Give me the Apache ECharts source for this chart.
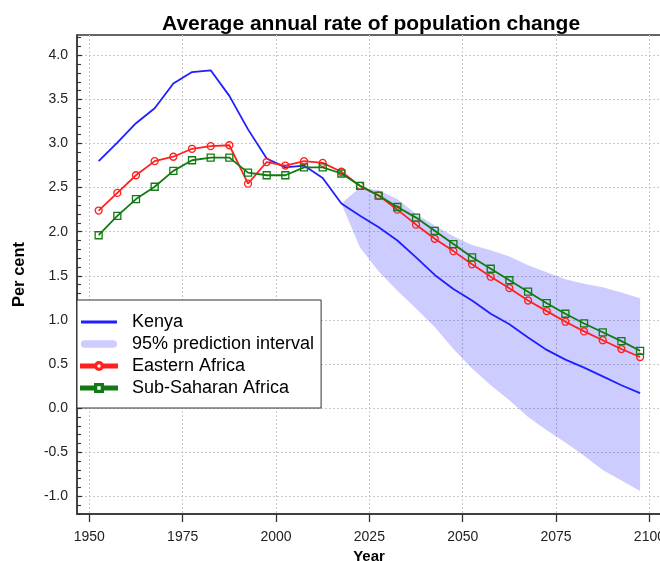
<!DOCTYPE html>
<html><head><meta charset="utf-8">
<script src="https://cdn.jsdelivr.net/npm/echarts@6/dist/echarts.min.js"></script>
<style>html,body{margin:0;padding:0;background:#fff}#c{width:660px;height:561px}</style>
</head><body><div id="c"></div>
<script>
// ---- data ----
const years = [1952.5, 1957.5, 1962.5, 1967.5, 1972.5, 1977.5, 1982.5, 1987.5, 1992.5, 1997.5,
  2002.5, 2007.5, 2012.5, 2017.5, 2022.5, 2027.5, 2032.5, 2037.5, 2042.5, 2047.5,
  2052.5, 2057.5, 2062.5, 2067.5, 2072.5, 2077.5, 2082.5, 2087.5, 2092.5, 2097.5];
const kenya = [2.80, 3.01, 3.23, 3.40, 3.68, 3.81, 3.83, 3.54, 3.16, 2.83,
  2.73, 2.75, 2.61, 2.32, 2.18, 2.05, 1.90, 1.71, 1.51, 1.35,
  1.22, 1.07, 0.95, 0.80, 0.66, 0.55, 0.46, 0.36, 0.26, 0.17];
const easternAfrica = [2.24, 2.44, 2.64, 2.80, 2.85, 2.94, 2.97, 2.98, 2.545, 2.79,
  2.75, 2.80, 2.78, 2.68, 2.52, 2.41, 2.25, 2.08, 1.92, 1.78,
  1.63, 1.49, 1.36, 1.22, 1.10, 0.98, 0.87, 0.77, 0.67, 0.58];
const subSaharanAfrica = [1.96, 2.18, 2.37, 2.51, 2.69, 2.81, 2.84, 2.84, 2.67, 2.64,
  2.64, 2.73, 2.73, 2.66, 2.52, 2.41, 2.28, 2.16, 2.01, 1.86,
  1.71, 1.58, 1.45, 1.32, 1.19, 1.07, 0.96, 0.86, 0.76, 0.65];
const bandYears = [2017.5, 2022.5, 2027.5, 2032.5, 2037.5, 2042.5, 2047.5, 2052.5, 2057.5,
  2062.5, 2067.5, 2072.5, 2077.5, 2082.5, 2087.5, 2092.5, 2097.5];
const bandLower = [2.32, 1.82, 1.55, 1.33, 1.13, 0.92, 0.67, 0.45, 0.26,
  0.09, -0.10, -0.25, -0.39, -0.54, -0.70, -0.82, -0.94];
const bandUpper = [2.32, 2.50, 2.47, 2.37, 2.20, 2.07, 1.95, 1.85, 1.79,
  1.72, 1.62, 1.54, 1.46, 1.41, 1.37, 1.31, 1.245];
const xTicks = [1950, 1975, 2000, 2025, 2050, 2075, 2100];
const yTicks = [-1.0, -0.5, 0.0, 0.5, 1.0, 1.5, 2.0, 2.5, 3.0, 3.5, 4.0];
const titleText = 'Average annual rate of population change';
const xName = 'Year';
const yName = 'Per cent';
const names = ['Kenya', '95% prediction interval', 'Eastern Africa', 'Sub-Saharan Africa'];

// ---- build ----
const FONT = '"Liberation Sans", Arial, Helvetica, sans-serif';
const yMinor = [];
for (let v = -12; v <= 42; v++) yMinor.push(v / 10);
const pairs = (xs, ys) => xs.map((x, i) => [x, ys[i]]);
const X_MIN = 1946.7, X_MAX = 2103.1, Y_MIN = -1.2, Y_MAX = 4.23;
const gridLine = { show: true, lineStyle: { color: '#c8c8c8', type: [2, 2], width: 1 } };
const BLUE = '#1f1fff', RED = '#ff2020', GREEN = '#127a12', BAND = 'rgba(0,0,255,0.2)';

const ICON_LINE = 'path://M0,0 H36 V3 H0 Z';
const ICON_BAND = 'path://M4,0 H34 A4,4 0 0 1 34,8 H4 A4,4 0 0 1 4,0 Z';
const ICON_CIRCLE = 'path://M0,3.5 H14 V6.5 H0 Z M22,5 A4,4 0 1 0 14,5 A4,4 0 1 0 22,5 Z M20.7,5 A2.7,2.7 0 1 1 15.3,5 A2.7,2.7 0 1 1 20.7,5 Z M22,3.5 H36 V6.5 H22 Z';
const ICON_SQUARE = 'path://M0,3.5 H14 V6.5 H0 Z M14,1 V9 H22 V1 Z M15.3,2.3 H20.7 V7.7 H15.3 Z M22,3.5 H36 V6.5 H22 Z';

const chart = echarts.init(document.getElementById('c'), null, { renderer: 'canvas' });
chart.setOption({
  animation: false,
  backgroundColor: '#ffffff',
  textStyle: { fontFamily: FONT },
  title: {
    text: titleText, left: 157, top: 9,
    textStyle: { fontFamily: FONT, fontSize: 21, fontWeight: 'bold', color: '#000' }
  },
  grid: { left: 77, top: 35, width: 584, height: 479, show: true, outerBoundsMode: 'none', containLabel: false,
    borderColor: '#333', borderWidth: 1.3, backgroundColor: 'transparent' },
  legend: {
    orient: 'vertical', left: 77, top: 300,
    backgroundColor: '#fff', borderColor: '#333', borderWidth: 1,
    padding: [13, 7, 11, 3], itemGap: 4, itemWidth: 36, itemHeight: 12,
    textStyle: { fontFamily: FONT, fontSize: 18, color: '#000', lineHeight: 18, padding: [0, 0, 0, 10] },
    data: [
      { name: names[0], icon: ICON_LINE, itemStyle: { color: BLUE } },
      { name: names[1], icon: ICON_BAND, itemStyle: { color: '#ccccff' } },
      { name: names[2], icon: ICON_CIRCLE, itemStyle: { color: RED } },
      { name: names[3], icon: ICON_SQUARE, itemStyle: { color: GREEN } }
    ]
  },
  xAxis: {
    type: 'value', min: X_MIN, max: X_MAX,
    name: xName, nameLocation: 'middle', nameGap: 30,
    nameTextStyle: { fontFamily: FONT, fontSize: 15, fontWeight: 'bold', color: '#000' },
    axisLine: { show: true, onZero: false, lineStyle: { color: '#333', width: 1.5 } },
    axisTick: { show: true, inside: false, length: 8, customValues: xTicks, lineStyle: { color: '#333', width: 1.3 } },
    axisLabel: { customValues: xTicks, margin: 16, fontSize: 14, color: '#222', fontFamily: FONT, formatter: v => String(v) },
    splitLine: gridLine
  },
  yAxis: [{
    type: 'value', min: Y_MIN, max: Y_MAX,
    name: yName, nameLocation: 'middle', nameGap: 49, nameRotate: 90,
    nameTextStyle: { fontFamily: FONT, fontSize: 16.5, fontWeight: 'bold', color: '#000' },
    axisLine: { show: true, onZero: false, lineStyle: { color: '#333', width: 1.5 } },
    axisTick: { show: true, inside: true, length: 5, customValues: yTicks, lineStyle: { color: '#333', width: 1.2 } },
    axisLabel: { customValues: yTicks, margin: 9, fontSize: 14, color: '#222', fontFamily: FONT, formatter: v => v.toFixed(1) },
    splitLine: gridLine
  }, {
    type: 'value', min: Y_MIN, max: Y_MAX, position: 'left',
    axisLine: { show: false },
    axisTick: { show: true, inside: true, length: 4, customValues: yMinor, lineStyle: { color: '#333', width: 1.1 } },
    axisLabel: { show: false },
    splitLine: { show: false }
  }],
  series: [
    { name: names[1], type: 'custom', coordinateSystem: 'cartesian2d', silent: true, z: 1,
      itemStyle: { color: BAND },
      data: bandYears.map((x, i) => [x, bandLower[i], bandUpper[i]]),
      encode: { x: 0, y: [1, 2] },
      renderItem: (params, api) => {
        if (params.dataIndex !== 0) return null;
        const up = bandYears.map((x, i) => api.coord([x, bandUpper[i]]));
        const lo = bandYears.map((x, i) => api.coord([x, bandLower[i]])).reverse();
        return { type: 'polygon', shape: { points: up.concat(lo) }, style: { fill: BAND } };
      }
    },
    { name: names[0], type: 'line', data: pairs(years, kenya), symbol: 'none',
      itemStyle: { color: BLUE }, lineStyle: { color: BLUE, width: 1.8 }, z: 3 },
    { name: names[2], type: 'line', data: pairs(years, easternAfrica),
      symbol: 'circle', symbolSize: 7,
      itemStyle: { color: 'rgba(255,255,255,0)', borderColor: RED, borderWidth: 1.3 },
      lineStyle: { color: RED, width: 1.8 }, z: 4 },
    { name: names[3], type: 'line', data: pairs(years, subSaharanAfrica),
      symbol: 'rect', symbolSize: 7,
      itemStyle: { color: 'rgba(255,255,255,0)', borderColor: GREEN, borderWidth: 1.3 },
      lineStyle: { color: GREEN, width: 1.8 }, z: 5 }
  ]
});
</script></body></html>
